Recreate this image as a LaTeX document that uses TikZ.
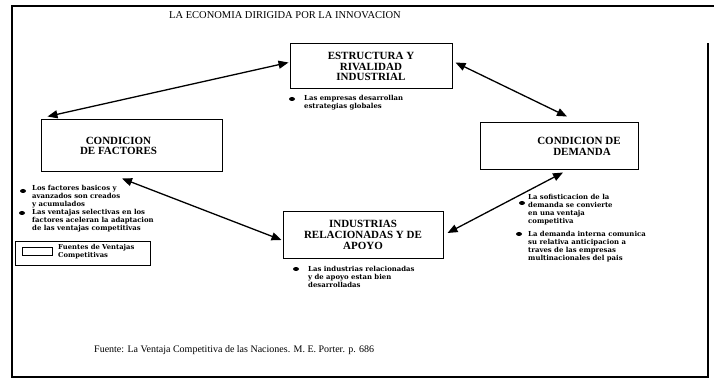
\documentclass[tikz,border=0pt]{standalone}
\usepackage{fontspec}
\setmainfont{Liberation Serif}
\newfontfamily\notefont{DejaVu Serif}
\usetikzlibrary{arrows.meta}
\begin{document}
\begin{tikzpicture}[x=1pt,y=-1pt,
  box/.style={draw,line width=1pt,align=center,inner sep=0pt,
    font=\fontsize{11}{10.8}\selectfont\bfseries},
  note/.style={anchor=north west,align=left,inner sep=0pt,
    font=\notefont\fontsize{6.9}{7.9}\selectfont\bfseries},
  link/.style={line width=1.3pt,
    {Triangle[length=10pt,width=8pt]}-{Triangle[length=10pt,width=8pt]}},
  bullet/.style={fill=black},
  frame/.style={line width=1.5pt}
]
\useasboundingbox (0,0) rectangle (714,379);
\draw[frame] (714,6) -- (12,6) -- (12,377) -- (708,377) -- (708,43);
\node[font=\fontsize{10.5}{12}\selectfont] (title) at (285,15) {LA ECONOMIA DIRIGIDA POR LA INNOVACION};

% boxes
\node[box,minimum width=162pt,minimum height=45pt] (est) at (371,66.5) {ESTRUCTURA Y\\RIVALIDAD\\INDUSTRIAL};
\node[box,minimum width=181pt,minimum height=52pt] (fac) at (131.5,146) {CONDICION\hspace*{26pt}\\DE FACTORES\hspace*{26pt}};
\node[box,minimum width=158pt,minimum height=47pt] (dem) at (559,146.5) {\hspace*{40pt}CONDICION DE\\\hspace*{46pt}DEMANDA};
\node[box,minimum width=160pt,minimum height=46pt] (ind) at (363,235) {INDUSTRIAS\\RELACIONADAS Y DE\\APOYO};

% connectors
\draw[link] ([shift={(7,-3)}]fac.north west) -- ([shift={(-1,-4)}]est.west);
\draw[link] ([shift={(3,-4)}]est.east) -- ([shift={(8,-6)}]dem.north);
\draw[link] ([shift={(4,2)}]dem.south) -- ([shift={(4,-2)}]ind.east);
\draw[link] ([shift={(-9.5,6)}]fac.south) -- ([shift={(-1,5)}]ind.west);

% notes
\fill[bullet] (292,99) ellipse (3pt and 2pt);
\node[note] (n1) at (304,95.5) {Las empresas desarrollan\\estrategias globales};

\fill[bullet] (23,191) ellipse (3pt and 2pt);
\node[note] (n2) at (32,185) {Los factores basicos y\\avanzados son creados\\y acumulados};
\fill[bullet] (22,213) ellipse (3pt and 2pt);
\node[note] (n3) at (32,209) {Las ventajas selectivas en los\\factores aceleran la adaptacion\\de las ventajas competitivas};

\fill[bullet] (522,203) ellipse (3pt and 2pt);
\node[note] (n4) at (528,194) {La sofisticacion de la\\demanda se convierte\\en una ventaja\\competitiva};
\fill[bullet] (519,234) ellipse (3pt and 2pt);
\node[note] (n5) at (528,231) {La demanda interna comunica\\su relativa anticipacion a\\traves de las empresas\\multinacionales del pais};

\fill[bullet] (296,269) ellipse (3pt and 2pt);
\node[note] (n6) at (308,266) {Las industrias relacionadas\\y de apoyo estan bien\\desarrolladas};

% legend
\node[draw,line width=1pt,minimum width=135pt,minimum height=23pt,inner sep=0pt] (legend) at (82.5,253.5) {};
\node[draw,line width=0.8pt,minimum width=30pt,minimum height=8pt,inner sep=0pt] (legbox) at (37,251) {};
\node[note,font=\notefont\fontsize{6.8}{8.5}\selectfont\bfseries] (legtext) at (58,244) {Fuentes de Ventajas\\Competitivas};

% source
\node[anchor=west,inner sep=0pt,font=\fontsize{10}{12}\selectfont] (src) at (94,350) {Fuente: La Ventaja Competitiva de las Naciones. M. E. Porter. p. 686};
\end{tikzpicture}
\end{document}
